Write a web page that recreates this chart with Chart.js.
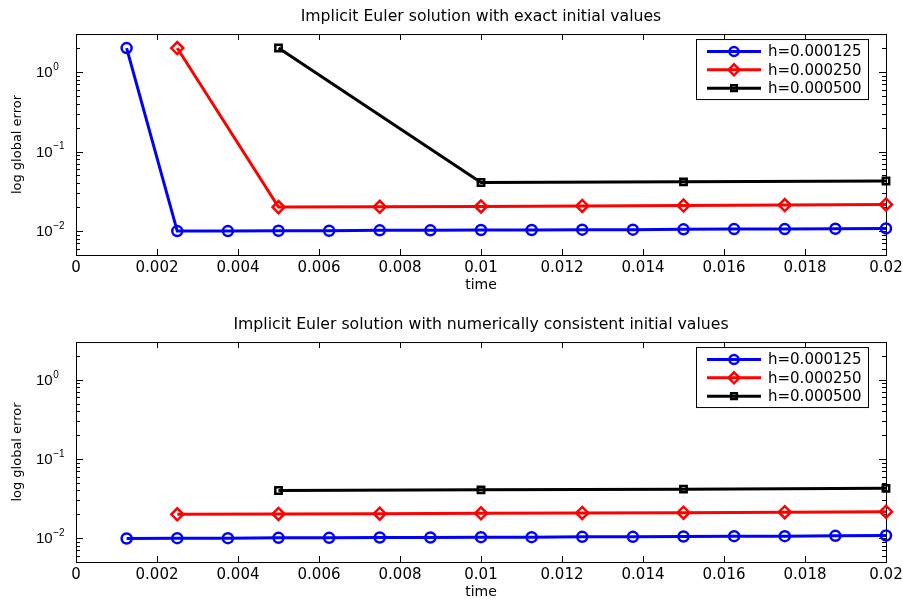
<!DOCTYPE html>
<html>
<head>
<meta charset="utf-8">
<title>Implicit Euler global error</title>
<script src="https://cdn.jsdelivr.net/npm/chart.js@4/dist/chart.umd.min.js"></script>
<style>
  body { margin: 0; background: #fff; overflow: hidden; }
  canvas { position: absolute; left: 0; }
</style>
</head>
<body>
<canvas id="top-chart" width="903" height="300" style="top:0"></canvas>
<canvas id="bottom-chart" width="903" height="307" style="top:300px"></canvas>
<script>
'use strict';

// legend names, one per step size
let stepLabels = ['h=0.000125', 'h=0.000250', 'h=0.000500'];

// time points of each run
let timesFine = [0.00125, 0.0025, 0.00375, 0.005, 0.00625, 0.0075, 0.00875, 0.01,
  0.01125, 0.0125, 0.01375, 0.015, 0.01625, 0.0175, 0.01875, 0.02];
let timesMid = [0.0025, 0.005, 0.0075, 0.01, 0.0125, 0.015, 0.0175, 0.02];
let timesCoarse = [0.005, 0.01, 0.015, 0.02];

// global error, exact initial values (top plot)
let exactFine = [2.0, 0.0100, 0.0100, 0.0101, 0.0101, 0.0102, 0.0102, 0.0103,
  0.0103, 0.0104, 0.0104, 0.0105, 0.0106, 0.0106, 0.0107, 0.0108];
let exactMid = [2.0, 0.0200, 0.0202, 0.0204, 0.0207, 0.0209, 0.0212, 0.0216];
let exactCoarse = [2.0, 0.0408, 0.0416, 0.0426];

// global error, numerically consistent initial values (bottom plot)
let consistentFine = [0.0099, 0.0100, 0.0100, 0.0101, 0.0101, 0.0102, 0.0102, 0.0103,
  0.0103, 0.0104, 0.0104, 0.0105, 0.0106, 0.0106, 0.0107, 0.0108];
let consistentMid = [0.0200, 0.0202, 0.0204, 0.0206, 0.0208, 0.0210, 0.0213, 0.0216];
let consistentCoarse = [0.0400, 0.0408, 0.0416, 0.0426];

// axes
let xTicks = [0, 0.002, 0.004, 0.006, 0.008, 0.01, 0.012, 0.014, 0.016, 0.018, 0.02];
let yTicks = [0.01, 0.1, 1];
let yMin = 0.005;
let yMax = 3;

// styles
let stepTimes = [timesFine, timesMid, timesCoarse];
let lineColors = ['#0000ff', '#ff0000', '#000000'];
let markerStyles = ['circle', 'rectRot', 'rect'];
let markerSizes = [5, 6, 4.5];

Chart.defaults.color = '#000';
Chart.defaults.font.family = '"DejaVu Sans"';

// matlab style box with inward ticks
const frameTicks = {
  id: 'frameTicks',
  beforeDatasetsDraw(chart) {
    const { ctx, chartArea: a, scales: { x, y } } = chart;
    ctx.save();
    ctx.strokeStyle = '#000';
    ctx.lineWidth = 1;
    ctx.strokeRect(a.left + 0.5, a.top + 0.5, a.width, a.height);
    ctx.beginPath();
    xTicks.forEach(v => {
      let px = Math.round(x.getPixelForValue(v)) + 0.5;
      ctx.moveTo(px, a.bottom);
      ctx.lineTo(px, a.bottom - 6);
      ctx.moveTo(px, a.top);
      ctx.lineTo(px, a.top + 6);
    });
    for (let e = -3; e <= 0; e++) {
      for (let m = 1; m <= 9; m++) {
        let v = m * Math.pow(10, e);
        if (v < yMin || v > yMax) continue;
        let len = m === 1 ? 7 : 4;
        let py = Math.round(y.getPixelForValue(v)) + 0.5;
        ctx.moveTo(a.left, py);
        ctx.lineTo(a.left + len, py);
        ctx.moveTo(a.right, py);
        ctx.lineTo(a.right - len, py);
      }
    }
    ctx.stroke();
    ctx.restore();
  }
};

// 10^n labels with a raised exponent
const powerLabels = {
  id: 'powerLabels',
  afterDraw(chart) {
    const { ctx, scales: { y } } = chart;
    ctx.save();
    ctx.fillStyle = '#000';
    ctx.textAlign = 'left';
    ctx.textBaseline = 'middle';
    yTicks.forEach(v => {
      let py = y.getPixelForValue(v);
      let exp = Math.round(Math.log10(v));
      ctx.font = '15px "Liberation Sans"';
      ctx.fillText('10', 36, py + 1);
      let w = ctx.measureText('10').width;
      ctx.font = '10px "Liberation Sans"';
      ctx.fillText(exp < 0 ? '\u2212' + (-exp) : String(exp), 36 + w + 0.5, py - 5);
    });
    ctx.restore();
  }
};

// legend inside a box in the upper right corner
const boxLegend = {
  id: 'boxLegend',
  afterDraw(chart) {
    const { ctx, chartArea: a } = chart;
    let w = 172;
    let h = 60;
    let left = a.right - 18 - w;
    let top = a.top + 5;
    ctx.save();
    ctx.fillStyle = '#fff';
    ctx.fillRect(left, top, w, h);
    ctx.strokeStyle = '#000';
    ctx.lineWidth = 1;
    ctx.strokeRect(left + 0.5, top + 0.5, w, h);
    ctx.font = '15px "DejaVu Sans"';
    ctx.textBaseline = 'middle';
    chart.data.datasets.forEach((ds, i) => {
      let rowY = top + 12.5 + i * 18.3;
      ctx.strokeStyle = ds.borderColor;
      ctx.lineWidth = ds.borderWidth;
      ctx.beginPath();
      ctx.moveTo(left + 11, rowY);
      ctx.lineTo(left + 65, rowY);
      ctx.stroke();
      ctx.lineWidth = ds.pointBorderWidth;
      ctx.fillStyle = 'rgba(0,0,0,0)';
      Chart.helpers.drawPoint(ctx, {
        pointStyle: ds.pointStyle,
        radius: ds.pointRadius - 0.5,
        borderWidth: ds.pointBorderWidth,
        rotation: 0
      }, left + 38, rowY);
      ctx.fillStyle = '#000';
      ctx.fillText(ds.label, left + 72, rowY + 1);
    });
    ctx.restore();
  }
};

function makeChart(canvasId, titleText, titleSize, titlePadding, seriesValues) {
  let datasets = [];
  for (let i = 0; i < stepLabels.length; i++) {
    let points = [];
    for (let j = 0; j < stepTimes[i].length; j++) {
      points.push({ x: stepTimes[i][j], y: seriesValues[i][j] });
    }
    datasets.push({
      label: stepLabels[i],
      data: points,
      borderColor: lineColors[i],
      borderWidth: 3,
      pointStyle: markerStyles[i],
      pointRadius: markerSizes[i],
      pointBorderWidth: 2.5,
      pointBorderColor: lineColors[i],
      pointBackgroundColor: 'rgba(0,0,0,0)',
      fill: false,
      tension: 0,
      clip: false
    });
  }

  let ctx = document.getElementById(canvasId).getContext('2d');
  return new Chart(ctx, {
    type: 'line',
    data: { datasets: datasets },
    plugins: [frameTicks, powerLabels, boxLegend],
    options: {
      responsive: false,
      animation: false,
      layout: { padding: { left: 0, right: 17, top: 0, bottom: 0 }, autoPadding: false },
      plugins: {
        legend: { display: false },
        tooltip: { enabled: false },
        title: {
          display: true,
          fullSize: false,
          text: titleText,
          color: '#000',
          font: { family: '"DejaVu Sans"', size: titleSize, weight: 'normal', lineHeight: 1.2 },
          padding: titlePadding
        }
      },
      scales: {
        x: {
          type: 'linear',
          min: 0,
          max: 0.02,
          afterBuildTicks: s => { s.ticks = xTicks.map(v => ({ value: v })); },
          afterFit: s => { s.height = 45; s.paddingLeft = 0; s.paddingRight = 0; },
          grid: { display: false, drawTicks: false },
          border: { display: false },
          ticks: {
            padding: 4,
            maxRotation: 0,
            autoSkip: false,
            font: { family: '"DejaVu Sans"', size: 15 },
            callback: v => String(v)
          },
          title: {
            display: true,
            text: 'time',
            font: { family: '"DejaVu Sans"', size: 14 },
            padding: { top: 0, bottom: 6 }
          }
        },
        y: {
          type: 'logarithmic',
          min: yMin,
          max: yMax,
          afterFit: s => { s.width = 76; s.paddingTop = 0; s.paddingBottom = 0; },
          grid: { display: false, drawTicks: false },
          border: { display: false },
          ticks: { display: false },
          title: {
            display: true,
            text: 'log global error',
            font: { family: '"DejaVu Sans"', size: 13 },
            padding: { top: 10, bottom: 0 }
          }
        }
      }
    }
  });
}

makeChart('top-chart', 'Implicit Euler solution with exact initial values',
  15.7, { top: 7.6, bottom: 7.6 }, [exactFine, exactMid, exactCoarse]);
makeChart('bottom-chart', 'Implicit Euler solution with numerically consistent initial values',
  15.7, { top: 15.6, bottom: 7.6 }, [consistentFine, consistentMid, consistentCoarse]);
</script>
</body>
</html>
